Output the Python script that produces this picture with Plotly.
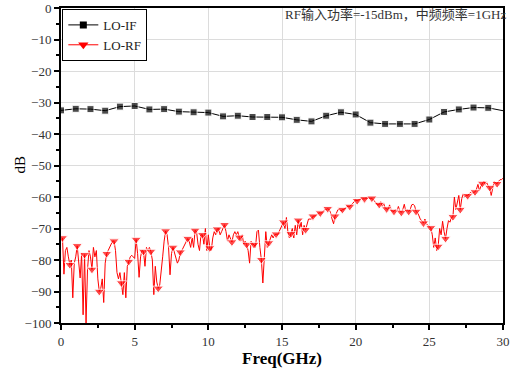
import plotly.graph_objects as go

# LO-IF (1 GHz steps)
if_freq = list(range(0, 31))
if_db = [-32.5, -32.0, -32.1, -32.6, -31.3, -31.1, -32.2, -32.1, -32.9, -33.1,
         -33.2, -34.4, -34.2, -34.6, -34.6, -34.7, -35.5, -36.0, -34.2, -33.1,
         -33.8, -36.4, -36.8, -36.8, -36.8, -35.4, -33.0, -32.2, -31.6, -31.7,
         -32.6]

# LO-RF (0.1 GHz steps from 0.1 to 30.0)
rf_freq = [round(0.1 * (i + 1), 1) for i in range(300)]
rf_db = [
    -73, -84.5, -77, -76, -79, -81.5, -80, -92, -81, -79,
    -75.5, -80, -85.7, -78, -97.4, -78.3, -100, -83, -77, -79,
    -83, -76, -79, -77, -86, -90, -89, -86, -93.5, -81,
    -78, -77, -76, -75, -74, -74, -77, -84, -86, -84,
    -87.3, -91, -84, -92, -82, -80.5, -79, -78.5, -79, -79.5,
    -73.5, -78, -85.5, -79, -77, -77.3, -82, -76, -77, -76,
    -77.3, -80, -91, -82, -87, -89, -88, -82, -79, -74,
    -70.8, -72, -76, -84.7, -78, -76, -78, -80, -81, -80,
    -77.5, -77, -76, -75, -74, -73.2, -74, -76, -73, -76,
    -70.6, -71, -75, -77, -72, -72, -75, -70, -77, -72,
    -76.2, -77, -73, -71, -72, -70.2, -70, -72, -71, -70,
    -68.8, -71, -74, -72, -73, -74.3, -72, -71, -72, -71,
    -72.8, -74, -72, -75, -74, -75.1, -77, -81, -74, -75,
    -75.1, -76, -71, -70.5, -76, -79.9, -87.3, -79, -71, -76,
    -74.6, -73, -72, -73, -72, -71.8, -72, -71, -70, -69,
    -68, -70, -66.5, -71, -73, -71.7, -70, -73, -69, -72,
    -67.4, -70, -68, -72, -69, -70.4, -69, -67, -67, -67,
    -66.1, -66, -66, -65.5, -65, -65.1, -65, -64.5, -64, -64,
    -63.7, -64, -65, -67, -68.5, -66.1, -65, -64, -64, -64.5,
    -64, -64, -63.5, -63, -63, -63, -62.5, -62, -61.5, -61,
    -61.2, -61, -60.5, -60.5, -60.5, -60.6, -60.3, -60.5, -60.3, -60.5,
    -60.4, -61, -61.5, -62, -62.5, -62.4, -61.5, -63, -62, -63.5,
    -63.8, -64, -62.5, -64, -64.5, -64.6, -64, -64.5, -63, -64.5,
    -64.9, -64, -62.3, -64.5, -64, -64.6, -64, -62.5, -62.3, -62.8,
    -64.6, -65, -66, -67.2, -67.5, -68.3, -67, -68.5, -69, -69.5,
    -69.8, -72, -76, -73, -77, -75.7, -70, -72, -67.7, -71,
    -73.2, -70, -67.5, -68, -66.5, -66.3, -60, -64, -61, -59.5,
    -64, -60.5, -59, -60, -59.5, -59.6, -59, -58.5, -59, -58.5,
    -58.4, -57.5, -56, -58, -56.5, -55.7, -55, -56, -55.5, -56.5,
    -57, -59.5, -56.5, -55, -55.5, -55.8, -55, -54.5, -54.5, -54,
]

x_ticks = [0, 5, 10, 15, 20, 25, 30]
y_ticks = [0, -10, -20, -30, -40, -50, -60, -70, -80, -90, -100]

note = "RF输入功率=-15dBm，中频频率=1GHz"

FONT = "Liberation Serif, Noto Sans CJK SC, serif"

if_sizes = [7] * (len(if_freq) - 1) + [0]
rf_sizes = [9 if i % 5 == 0 else 0 for i in range(len(rf_freq))]

fig = go.Figure()
fig.add_trace(go.Scatter(x=if_freq, y=if_db, mode="lines+markers",
                         line=dict(color="black", width=1),
                         marker=dict(symbol="square", size=if_sizes, color="black"),
                         showlegend=False))
fig.add_trace(go.Scatter(x=rf_freq, y=rf_db, mode="lines+markers",
                         line=dict(color="#ff0000", width=1),
                         marker=dict(symbol="triangle-down", size=rf_sizes, color="#ff0000"),
                         showlegend=False))
fig.add_trace(go.Scatter(x=[None], y=[None], mode="lines+markers", name="LO-IF",
                         line=dict(color="black", width=1),
                         marker=dict(symbol="square", size=7, color="black")))
fig.add_trace(go.Scatter(x=[None], y=[None], mode="lines+markers", name="LO-RF",
                         line=dict(color="#ff0000", width=1),
                         marker=dict(symbol="triangle-down", size=9, color="#ff0000")))

axis_common = dict(showline=True, linecolor="black", linewidth=2, mirror=True,
                   ticks="outside", ticklen=5, tickwidth=1.5, tickcolor="black",
                   showgrid=True, gridcolor="#dcdcdc", gridwidth=1, zeroline=False,
                   automargin=False,
                   tickfont=dict(family=FONT, size=13, color="#333333"))

fig.update_xaxes(range=[0, 30], tickvals=x_ticks, **axis_common,
                 minor=dict(ticks="outside", dtick=2.5, ticklen=3, tickwidth=1.5,
                            tickcolor="black", showgrid=False),
                 title=dict(text="<b>Freq(GHz)</b>", font=dict(family=FONT, size=17, color="black"),
                            standoff=2))
fig.update_yaxes(range=[-100, 0], tickvals=y_ticks, **axis_common,
                 minor=dict(ticks="outside", dtick=5, ticklen=3, tickwidth=1.5,
                            tickcolor="black", showgrid=False))

fig.add_annotation(text="dB", xref="paper", yref="paper", x=-0.093, y=0.503,
                   xanchor="center", yanchor="middle", textangle=-90, showarrow=False,
                   font=dict(family=FONT, size=15, color="black"))

fig.add_annotation(text=note, xref="paper", yref="paper", x=0.502, y=0.979,
                   xanchor="left", yanchor="middle", showarrow=False,
                   font=dict(family=FONT, size=13, color="#333333"))

fig.update_layout(width=511, height=372,
                  margin=dict(l=61, r=8, t=8, b=49),
                  paper_bgcolor="white", plot_bgcolor="white",
                  legend=dict(x=0.003, y=0.997, xanchor="left", yanchor="top",
                              bgcolor="white", bordercolor="black", borderwidth=1,
                              font=dict(family=FONT, size=13, color="#222222"),
                              tracegroupgap=0, itemwidth=30))

fig.write_html("out.html")
